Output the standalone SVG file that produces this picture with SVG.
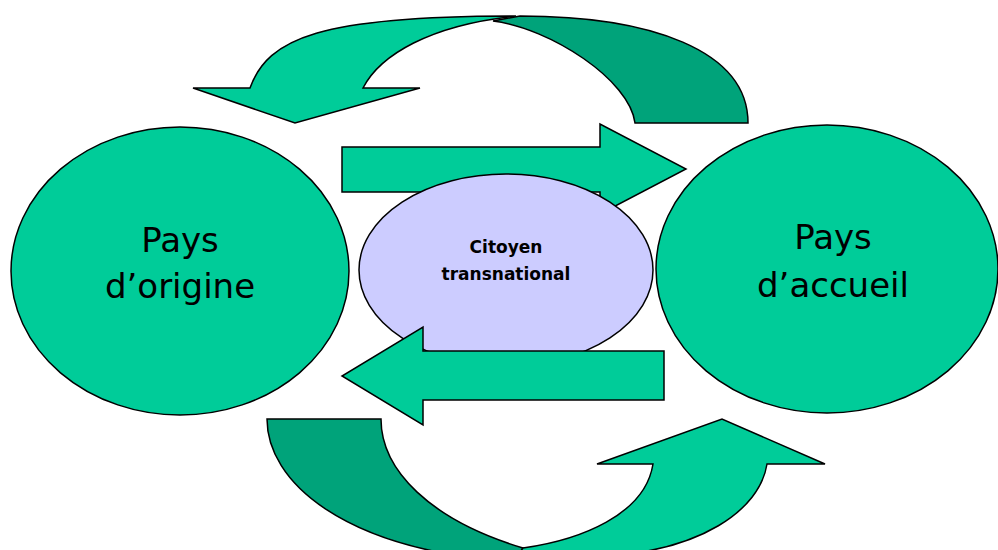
<svg xmlns="http://www.w3.org/2000/svg" width="998" height="550" viewBox="0 0 998 550">
<style>
.lt{fill:#00CC99;stroke:#000;stroke-width:1.5;stroke-linejoin:miter}
.dk{fill:#00A37A;stroke:#000;stroke-width:1.5}
.ctr{fill:#CCCCFF;stroke:#000;stroke-width:1.5}
.big{font-family:"DejaVu Sans",Verdana,sans-serif;font-size:34px;fill:#000;text-anchor:middle}
.sm{font-family:"DejaVu Sans",Verdana,sans-serif;font-size:17px;font-weight:bold;fill:#000;text-anchor:middle}
</style>
<rect width="998" height="550" fill="#fff"/>
<g id="connectors">
  <path class="dk" d="M635,123 L748,123 C748,50 650,16 520,16 L493,21 C550,28 630,80 635,123 Z"/>
  <path class="lt" d="M516,16 C320,16 268,38 250,88 L193,88 L295,123 L420,88 L363,88 C380,55 430,25 516,16 Z"/>
  <path class="dk" d="M267,419 L381,419 C381,470 430,520 523,548 L515,562 C340,550 267,480 267,419 Z"/>
  <path class="lt" d="M523,548 C580,540 645,515 653,464 L597,464 L722,419 L825,464 L767,464 C760,510 700,552 600,556 L600,566 L510,566 Z"/>
  <path class="lt" d="M342,147 L600,147 L600,124 L686,169 L600,214 L600,192 L342,192 Z"/>
</g>
<g id="pays-origine">
  <ellipse class="lt" cx="180" cy="271" rx="169" ry="144"/>
  <text class="big" x="180" y="252">Pays</text>
  <text class="big" x="180" y="298">d’origine</text>
</g>
<g id="pays-accueil">
  <ellipse class="lt" cx="827" cy="269" rx="171" ry="144"/>
  <text class="big" x="833" y="249">Pays</text>
  <text class="big" x="833" y="297">d’accueil</text>
</g>
<g id="citoyen">
  <ellipse class="ctr" cx="506" cy="270" rx="147" ry="96"/>
  <text class="sm" x="506" y="253">Citoyen</text>
  <text class="sm" x="506" y="280">transnational</text>
</g>
<g id="connectors-front">
  <path class="lt" d="M664,351 L423,351 L423,327 L342,376 L423,425 L423,400 L664,400 Z"/>
</g>
</svg>
